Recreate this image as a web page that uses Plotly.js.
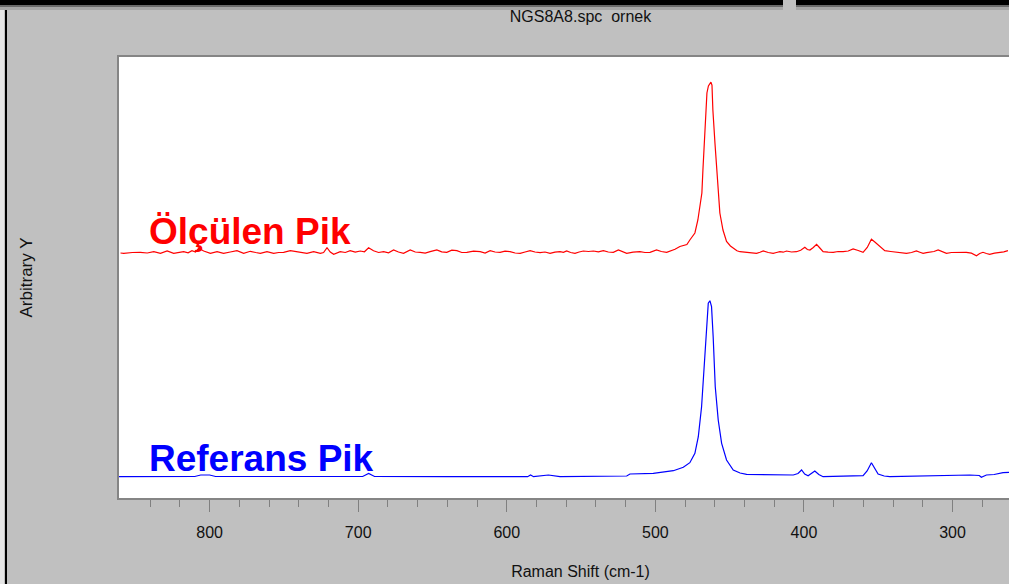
<!DOCTYPE html>
<html><head><meta charset="utf-8">
<script src="https://cdn.plot.ly/plotly-3.0.1.min.js"></script>
<style>html,body{margin:0;padding:0;overflow:hidden;background:#c0c0c0}</style>
</head>
<body><div id="chart" style="width:1042px;height:584px"></div>
<script>
// ---- data ----
const chartTitle = 'NGS8A8.spc\u00a0 ornek';
const xTitle = 'Raman Shift (cm-1)';
const yTitle = 'Arbitrary Y';
const labelMeasured = 'Ölçülen Pik';
const labelReference = 'Referans Pik';
const tickValues = [800, 700, 600, 500, 400, 300];
const tickLabels = ['800', '700', '600', '500', '400', '300'];
const minorTickValues = [840, 820, 780, 760, 740, 720, 680, 660, 640, 620, 580, 560, 540, 520, 480, 460, 440, 420, 380, 360, 340, 320, 280, 260];

const redShift = [860,857.8,852,846.6,842,837.6,833.1,828.6,824.2,821,817.5,814.5,811.9,809.5,807.4,804.0,799.5,795.0,790.6,786.1,781.6,777.1,772.6,769,765.9,761.4,756.9,753.5,750.2,745.7,741.2,737.8,734.5,730.0,725.5,723.3,721.0,718.8,716.5,712.1,708.7,705.4,702.0,698.6,695.8,693.0,689.7,686.3,682.9,679.6,676.2,672.9,669.5,665.0,661.6,658.3,654.9,651.6,647.1,643.8,640.4,637.0,633.6,630.3,626.9,622.4,617.9,614.6,611.2,607.9,604.5,601.2,597.8,594.4,591.0,587.7,584.3,581.0,577.6,574.3,570.9,567.6,564.2,561.9,559.7,557.0,554.1,551.3,548.5,545.0,541.7,538.4,535.0,531.7,528.3,524.9,522.0,519.3,515.0,510.4,507.0,503.6,499.2,496.0,492.4,489.5,486.8,483.5,480.5,478.8,476.8,474.8,473.4,471.4,470.0,468.7,468.0,466.7,465.3,464.3,463.3,462.6,461.9,461.3,459.9,458.6,457.9,456.6,454.5,452.1,449.5,447.6,445.1,443.1,439.8,436.4,434,431.9,429.6,427.4,424,420.7,418.5,416.2,414,411.7,408.4,405.0,402.2,399.4,397.7,396.0,393.7,391.5,389.3,387.1,383.7,380.3,377,373.6,370.2,366.9,363.5,360.2,357.4,354.6,352.3,350.1,347.8,345.6,341.6,337.7,334.3,331.0,327.6,324.3,322,319.8,317.5,315.3,312.5,309.7,306.9,304.1,300.7,297.4,294,290.7,287.3,283.9,281.7,279.5,277.2,275.0,271.7,268.3,265.5,262.7];
const redIntensity = [245.0,244.7,245.5,245.7,245.0,246.3,244.7,247.0,244.7,245.8,246.3,245.2,247.3,246.0,249.7,247.0,244.7,246.3,244.7,246.0,247.3,244.7,246.7,245.5,244.7,246.3,244.7,245.5,245.7,247.3,246.0,245.2,244.7,246.3,244.7,245.5,250.3,246.0,243.7,246.3,245.5,247.3,245.8,247.0,246.2,250.3,247.3,245.5,246.3,245.2,248.0,246.0,244.7,248.0,246.0,245.7,244.9,246.3,248.0,246.2,245.7,247.8,247.3,245.5,245.7,246.8,246.3,245.0,247.3,246.0,245.7,246.8,246.3,245.0,244.7,246.0,247.3,246.0,245.3,246.0,244.7,245.8,246.3,245.7,247.0,245.5,244.7,246.0,247.0,246.5,247.0,246.2,247.3,246.0,245.7,248.0,246.0,244.7,245.8,246.3,245.5,245.7,248.0,246.5,245.7,247.0,248.7,251.5,252.8,253.5,258,262,265,278,292,305,328,371,405,412,415.3,415.8,413,388,355,328,305,285,268,256.5,252,249.7,247.3,246.3,245.7,245.7,245.0,244.7,245.8,247.0,245.5,244.7,245.5,246.3,245.8,247.0,246.0,246.3,247.8,250.7,248.5,248.0,250.5,253.7,250,246.3,245.8,245.7,246.5,246.3,247.0,249.0,247.5,245.7,250.5,258.7,256,253.0,249.5,247.3,246.5,245.7,245.2,244.7,245.5,247.0,245.8,244.7,245.3,245.7,246.5,248.0,246.0,244.7,245.5,245.7,245.2,245.7,244.8,242.3,244.5,245.7,244.5,243.7,244.8,245.3,246.2,247.3];

const blueShift = [861,830,810,806,800,796,760,720,697,693,689,640,600,586,584,582,572,568,564.2,519.3,517.1,501.4,496.9,487.9,481.2,476.8,473.4,471.1,468.9,467.3,466.0,464.4,463.3,462.2,461.1,459.7,457.7,455.4,452.1,447.6,443,438.6,407.2,404,401.6,399.5,397.2,395,392.7,390,387.1,360.2,357.5,354.6,352.3,350.1,346,342.2,288.4,282,280.6,277.2,272,266.0,261.8];
const blueIntensity = [21.3,21.3,21.5,23.0,23.0,21.5,21.3,21.3,21.5,24.5,21.5,21.3,21.3,21.3,23.0,21.3,23.0,22.0,21.3,22.0,24.0,24.7,25.7,27.3,30.7,35.3,44.7,61.3,91.3,124.7,158,194.7,197.3,191.3,161.3,111.3,78,54.7,38,28,25,23.7,23,24.5,28,24,22.3,24.5,27,23.5,21.3,22.3,27,35.3,29,24,22,21.3,23,22.5,20.7,23,23.5,25.3,25.7];

// ---- layout helpers (pixel -> paper) ----
const W = 1042, H = 584, ML = 119, MR = 0, MT = 57, MB = 86;
const pw = W - ML - MR, ph = H - MT - MB;
const px = p => (p - ML) / pw;
const py = p => 1 - (p - MT) / ph;
const rect = (x0, x1, y0, y1, c) => ({type: 'rect', xref: 'paper', yref: 'paper',
  x0: px(x0), x1: px(x1), y0: py(y1), y1: py(y0), fillcolor: c, line: {width: 0}, layer: 'above'});

const font = 'Liberation Sans, Arial, sans-serif';

const traces = [
  {x: redShift, y: redIntensity, type: 'scatter', mode: 'lines', name: labelMeasured,
   line: {color: '#ff0000', width: 1.2}, hoverinfo: 'skip'},
  {x: blueShift, y: blueIntensity, type: 'scatter', mode: 'lines', name: labelReference,
   line: {color: '#0000ff', width: 1.2}, hoverinfo: 'skip'}
];

const layout = {
  width: W, height: H, autosize: false,
  margin: {l: ML, r: MR, t: MT, b: MB, pad: 0},
  paper_bgcolor: '#c0c0c0', plot_bgcolor: '#ffffff',
  showlegend: false,
  font: {family: font, size: 16, color: '#111'},
  title: {text: chartTitle, x: 0.5 * (ML + W - MR) / W, xanchor: 'center', xref: 'container',
          y: 1 - 16 / H, yanchor: 'middle', font: {family: font, size: 16, color: '#111'}},
  xaxis: {
    range: [861, 861 - pw / 1.4858], autorange: false,
    tickmode: 'array', tickvals: tickValues, ticktext: tickLabels,
    ticks: 'outside', ticklen: 12, tickwidth: 1, tickcolor: '#808080',
    minor: {tickmode: 'array', tickvals: minorTickValues, ticks: 'outside', ticklen: 7, tickwidth: 1, tickcolor: '#808080', showgrid: false},
    ticklabelstandoff: 7,
    tickfont: {family: font, size: 16, color: '#111'},
    showgrid: false, zeroline: false,
    showline: true, mirror: true, linecolor: '#858585', linewidth: 2,
    title: {text: xTitle, font: {family: font, size: 16, color: '#111'}, standoff: 26},
    automargin: true
  },
  yaxis: {
    range: [0, ph], autorange: false,
    showticklabels: false, ticks: '', showgrid: false, zeroline: false,
    showline: true, linecolor: '#858585', linewidth: 2,
    title: {text: yTitle, font: {family: font, size: 17, color: '#111'}, standoff: 80},
    automargin: true
  },
  annotations: [
    {x: 842, y: 244.0, xref: 'x', yref: 'y', xanchor: 'left', yanchor: 'bottom', showarrow: false,
     text: '<b>' + labelMeasured + '</b>', font: {family: font, size: 37, color: '#ff0000'}},
    {x: 842, y: 17.3, xref: 'x', yref: 'y', xanchor: 'left', yanchor: 'bottom', showarrow: false,
     text: '<b>' + labelReference + '</b>', font: {family: font, size: 37, color: '#0000ff'}}
  ],
  shapes: [
    rect(0, 4, 0, H, '#e6e6e6'),
    rect(5, 7, 0, H, '#000000'),
    rect(0, 783, 0, 5, '#000000'),
    rect(0, 783, 5, 7, '#6a6a6a'),
    rect(0, 783, 7, 10, '#a6a6a6'),
    rect(796, W, 0, 5, '#000000'),
    rect(796, W, 5, 7, '#6a6a6a'),
    rect(796, W, 7, 10, '#a6a6a6')
  ]
};

Plotly.newPlot('chart', traces, layout, {displayModeBar: false, staticPlot: true});
</script>
</body></html>
